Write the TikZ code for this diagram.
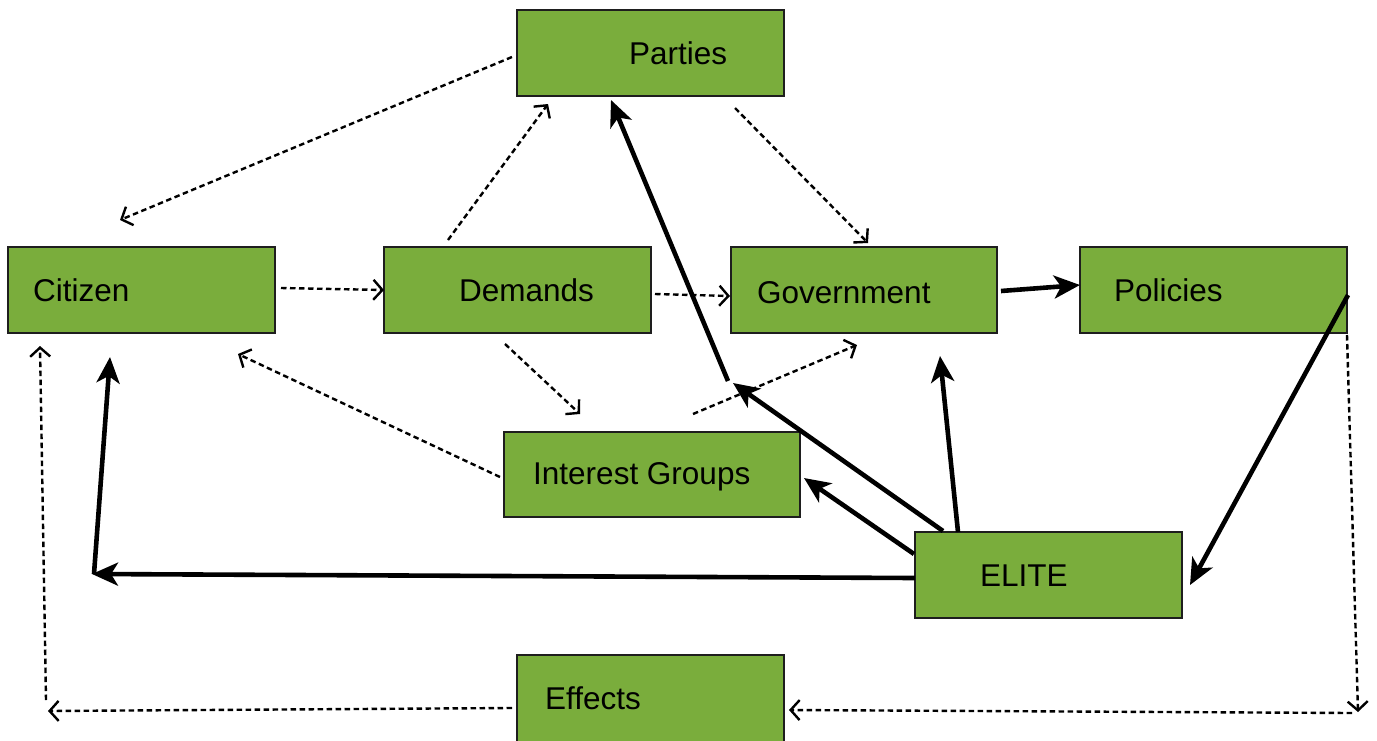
\documentclass[tikz,border=0pt]{standalone}
\usepackage{fontspec}
\setmainfont{Liberation Sans}
\usetikzlibrary{arrows.meta}
\definecolor{boxgreen}{HTML}{7AAD3C}
\definecolor{boxline}{HTML}{1E1E1E}
\begin{document}
\begin{tikzpicture}[x=1pt,y=-1pt,
  box/.style={draw=boxline, line width=2.9pt, fill=boxgreen, rectangle,
    inner sep=0pt, outer sep=0pt, anchor=north west,
    minimum width=267pt, minimum height=86pt},
  lbl/.style={font=\fontsize{31.5}{36}\selectfont, inner sep=0pt, anchor=base west},
  flow/.style={line width=2.4pt, dash pattern=on 5.5pt off 3.5pt,
    -{Straight Barb[length=9pt,width=20pt,line width=2.4pt]}},
  power/.style={line width=4.6pt, -{Stealth[length=26pt,width=23pt,inset=7pt]}}
]
\useasboundingbox (0,0) rectangle (1377,740);

% boxes
\node[box] (parties) at (517,10) {};
\node[box] (citizen) at (8,247) {};
\node[box] (demands) at (384,247) {};
\node[box, minimum width=266pt] (government) at (731,247) {};
\node[box] (policies) at (1080,247) {};
\node[box, minimum width=296pt, minimum height=85pt] (interest) at (504,432) {};
\node[box] (elite) at (915,532) {};
\node[box, minimum height=90pt] (effects) at (517,655) {};

% labels
\node[lbl] (partiesT) at (629,64) {Parties};
\node[lbl] (citizenT) at (33,301) {Citizen};
\node[lbl] (demandsT) at (459,301) {Demands};
\node[lbl] (governmentT) at (757,303) {Government};
\node[lbl] (policiesT) at (1114,301) {Policies};
\node[lbl] (interestT) at (533,484) {Interest Groups};
\node[lbl] (eliteT) at (980,586) {ELITE};
\node[lbl] (effectsT) at (545,709) {Effects};

% free ends of the connectors
\coordinate (pL) at (512,57);   \coordinate (cTop) at (120,220);
\coordinate (cR) at (281,288);
\coordinate (dT) at (448,240);  \coordinate (pBl) at (548,104);
\coordinate (pBr) at (735,108); \coordinate (gT) at (868,243);
\coordinate (dR) at (655,294);  \coordinate (gL) at (730,296);
\coordinate (dB) at (505,344);  \coordinate (iT) at (580,414);
\coordinate (iL) at (500,477);  \coordinate (cBr) at (238,354);
\coordinate (iTr) at (693,414); \coordinate (gB) at (857,345);
\coordinate (polB) at (1347,335); \coordinate (corBR) at (1358,712);
\coordinate (corBR2) at (1352,713); \coordinate (effR) at (789,710);
\coordinate (effL) at (512,708); \coordinate (corBL) at (48,711);
\coordinate (corBL2) at (46,700); \coordinate (cBl) at (40,346);

\coordinate (gvR) at (1001,291); \coordinate (polL) at (1080,285);
\coordinate (polR) at (1348,295); \coordinate (eliR) at (1190,585);
\coordinate (eliT1) at (958,532); \coordinate (gB2) at (940,356);
\coordinate (eliT2) at (943,531); \coordinate (relay) at (733,383);
\coordinate (relay2) at (728,381); \coordinate (pB) at (611,100);
\coordinate (eliL1) at (914,554); \coordinate (iR) at (804,478);
\coordinate (eliL2) at (915,578); \coordinate (turn) at (92,574);
\coordinate (turn2) at (94,574); \coordinate (cB) at (110,357);

% dashed flows
\draw[flow] (pL) -- (cTop);
\draw[flow] (cR) -- (demands.west);
\draw[flow] (dT) -- (pBl);
\draw[flow] (pBr) -- (gT);
\draw[flow] (dR) -- (gL);
\draw[flow] (dB) -- (iT);
\draw[flow] (iL) -- (cBr);
\draw[flow] (iTr) -- (gB);
\draw[flow] (polB) -- (corBR);
\draw[flow] (corBR2) -- (effR);
\draw[flow] (effL) -- (corBL);
\draw[flow] (corBL2) -- (cBl);

% solid flows
\draw[power] (gvR) -- (polL);
\draw[power] (polR) -- (eliR);
\draw[power] (eliT1) -- (gB2);
\draw[power] (eliT2) -- (relay);
\draw[power] (relay2) -- (pB);
\draw[power] (eliL1) -- (iR);
\draw[power] (eliL2) -- (turn);
\draw[power] (turn2) -- (cB);
\end{tikzpicture}
\end{document}
